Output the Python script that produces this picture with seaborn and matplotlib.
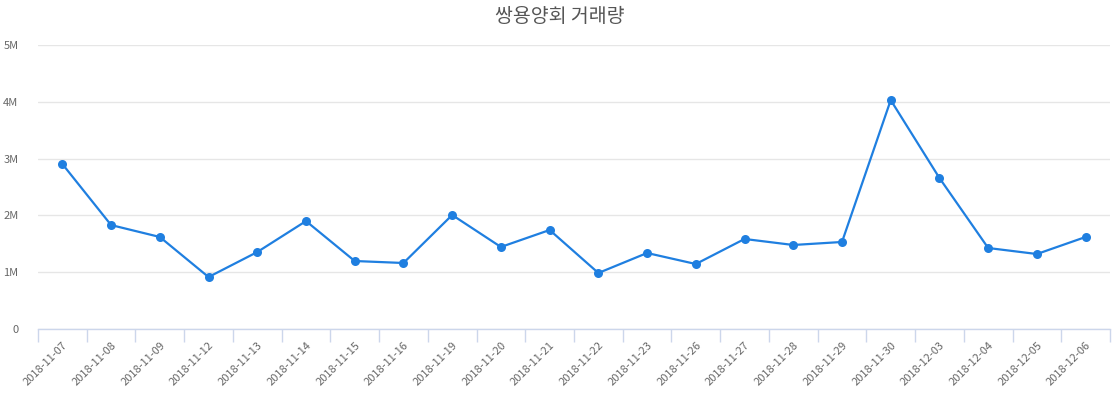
import matplotlib
matplotlib.use("Agg")
import matplotlib.pyplot as plt
import seaborn as sns
import pandas as pd
from matplotlib.ticker import FuncFormatter, FixedLocator

dates = ["2018-11-07", "2018-11-08", "2018-11-09", "2018-11-12", "2018-11-13",
         "2018-11-14", "2018-11-15", "2018-11-16", "2018-11-19", "2018-11-20",
         "2018-11-21", "2018-11-22", "2018-11-23", "2018-11-26", "2018-11-27",
         "2018-11-28", "2018-11-29", "2018-11-30", "2018-12-03", "2018-12-04",
         "2018-12-05", "2018-12-06"]
volume = [2905000, 1830000, 1620000, 915000, 1355000, 1900000, 1197000, 1162000,
          2007000, 1444000, 1743000, 986000, 1338000, 1144000, 1585000, 1479000,
          1532000, 4030000, 2658000, 1426000, 1320000, 1620000]
title = "쌍용양회 거래량"

sns.set_theme(style="white")
plt.rcParams['font.family'] = ['Noto Sans CJK KR', 'DejaVu Sans']

df = pd.DataFrame({"x": range(len(dates)), "v": volume})

fig = plt.figure(figsize=(11.2, 4.0), dpi=100)
ax = fig.add_axes([38/1120, 1-329/400, (1110-38)/1120, (329-45)/400])

color = "#1f7fe0"
sns.lineplot(data=df, x="x", y="v", ax=ax, color=color, linewidth=1.6,
             marker="o", markersize=6.5, markeredgewidth=0, markerfacecolor=color)

n = len(dates)
ax.set_xlim(-0.5, n - 0.5)
ax.set_ylim(0, 5_000_000)
ax.set_yticks([0, 1e6, 2e6, 3e6, 4e6, 5e6])
ax.yaxis.set_major_formatter(FuncFormatter(lambda v, p: "0" if v == 0 else f"{int(v/1e6)}M"))
ax.grid(axis="y", color="#e6e6e6", linewidth=1)
ax.set_axisbelow(True)

ax.set_xticks(range(n))
ax.set_xticklabels(dates, rotation=45, ha="right", rotation_mode="anchor",
                   fontsize=8, color="#666666")
ax.xaxis.set_minor_locator(FixedLocator([i - 0.5 for i in range(n + 1)]))
ax.tick_params(axis="x", which="major", bottom=True, length=0, pad=8)
ax.tick_params(axis="x", which="minor", bottom=True, length=9, color="#ccd6eb",
               width=1, direction="out")
ax.tick_params(axis="y", length=0, labelsize=8, labelcolor="#666666", pad=14)

for s in ["top", "right", "left"]:
    ax.spines[s].set_visible(False)
ax.spines["bottom"].set_color("#ccd6eb")
ax.spines["bottom"].set_linewidth(1)

ax.set_xlabel("")
ax.set_ylabel("")
fig.text(560/1120, 1-17/400, title, ha="center", va="center", fontsize=14,
         color="#555555")

fig.savefig("out.png", dpi=100, facecolor="white")
